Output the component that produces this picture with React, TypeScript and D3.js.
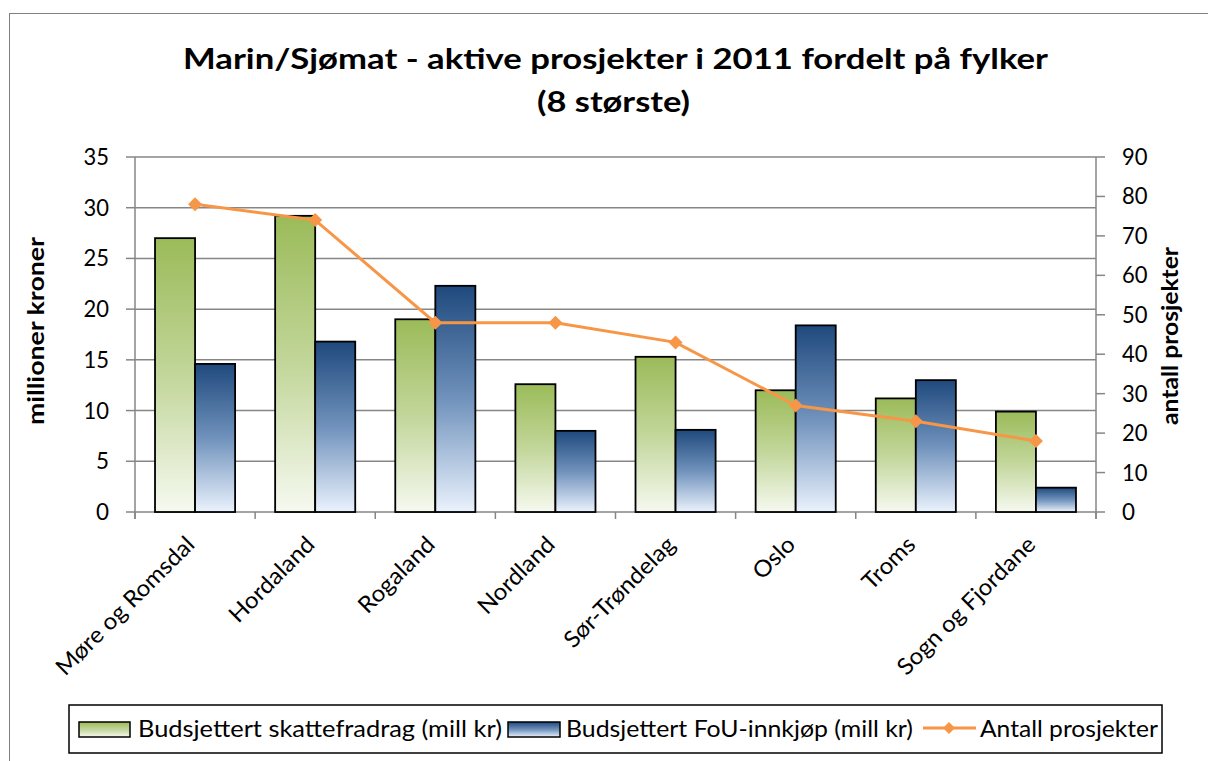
import React from "react";
import * as d3 from "d3";

const categories = ["Møre og Romsdal", "Hordaland", "Rogaland", "Nordland", "Sør-Trøndelag", "Oslo", "Troms", "Sogn og Fjordane"];
const skattefradrag = [27.0, 29.2, 19.0, 12.6, 15.3, 12.0, 11.2, 9.9];
const fouInnkjop = [14.6, 16.8, 22.3, 8.0, 8.1, 18.4, 13.0, 2.4];
const antallProsjekter = [78, 74, 48, 48, 43, 27, 23, 18];
const leftTicks = [0, 5, 10, 15, 20, 25, 30, 35];
const rightTicks = [0, 10, 20, 30, 40, 50, 60, 70, 80, 90];
const seriesNames = ["Budsjettert skattefradrag (mill kr)", "Budsjettert FoU-innkjøp (mill kr)", "Antall prosjekter"];
const titleLines = ["Marin/Sjømat - aktive prosjekter i 2011 fordelt på fylker", "(8 største)"];

const W = 1208;
const H = 761;
const plot = { left: 135, right: 1096, top: 157, bottom: 512 };
const FONT = "Lato, 'Open Sans', sans-serif";
const GRID = "#868686";
const ORANGE = "#F79646";
const SX = 1.05;

export default function App() {
  const x = d3.scaleBand<string>().domain(categories).range([plot.left, plot.right]).paddingInner(0).paddingOuter(0);
  const yL = d3.scaleLinear().domain([0, 35]).range([plot.bottom, plot.top]);
  const yR = d3.scaleLinear().domain([0, 90]).range([plot.bottom, plot.top]);
  const bw = x.bandwidth();
  const sub = d3.scaleBand<number>().domain([0, 1]).range([bw / 6, bw - bw / 6]).padding(0);

  const line = d3
    .line<number>()
    .x((_, i) => (x(categories[i]) as number) + bw / 2)
    .y((d) => yR(d));

  const diamond = (cx: number, cy: number, r: number) =>
    `M${cx},${cy - r}L${cx + r},${cy}L${cx},${cy + r}L${cx - r},${cy}Z`;

  const tickW = (t: number) => (String(t).length === 1 ? 13 : 25.5);

  return (
    <svg width={W} height={H} style={{ position: "absolute", left: 0, top: 0, background: "#fff" }} fontFamily={FONT}>
      <defs>
        <linearGradient id="gGreen" x1="0" y1="0" x2="0" y2="1">
          <stop offset="0" stopColor="#9BBB59" />
          <stop offset="0.5" stopColor="#C2D69A" />
          <stop offset="1" stopColor="#F6F9F0" />
        </linearGradient>
        <linearGradient id="gBlue" x1="0" y1="0" x2="0" y2="1">
          <stop offset="0" stopColor="#1F497D" />
          <stop offset="0.5" stopColor="#7092BC" />
          <stop offset="1" stopColor="#EAF2FD" />
        </linearGradient>
      </defs>
      <rect x={0} y={0} width={W} height={H} fill="#fff" />
      <rect x={9.5} y={13.5} width={W + 20} height={H + 20} fill="none" stroke="#7f7f7f" strokeWidth={1} />

      {/* title */}
      <text x={183} y={69} fontSize={29} fontWeight="bold" fill="#000" textLength={865} lengthAdjust="spacingAndGlyphs">
        {titleLines[0]}
      </text>
      <text x={537} y={112} fontSize={29} fontWeight="bold" fill="#000" textLength={153} lengthAdjust="spacingAndGlyphs">
        {titleLines[1]}
      </text>

      {/* gridlines */}
      {leftTicks.map((t) => (
        <line key={"g" + t} x1={plot.left} x2={plot.right} y1={yL(t)} y2={yL(t)} stroke={GRID} strokeWidth={1.5} />
      ))}
      {/* left axis */}
      <line x1={plot.left} x2={plot.left} y1={plot.top} y2={plot.bottom + 7} stroke={GRID} strokeWidth={1.5} />
      {leftTicks.map((t) => (
        <g key={"l" + t}>
          <line x1={plot.left - 9} x2={plot.left} y1={yL(t)} y2={yL(t)} stroke={GRID} strokeWidth={1.5} />
          <text x={109 - tickW(t)} y={yL(t) + 8} fontSize={23} fill="#000" textLength={tickW(t)} lengthAdjust="spacingAndGlyphs">
            {t}
          </text>
        </g>
      ))}
      {/* right axis */}
      <line x1={plot.right} x2={plot.right} y1={plot.top} y2={plot.bottom + 7} stroke={GRID} strokeWidth={1.5} />
      {rightTicks.map((t) => (
        <g key={"r" + t}>
          <line x1={plot.right} x2={plot.right + 9} y1={yR(t)} y2={yR(t)} stroke={GRID} strokeWidth={1.5} />
          <text x={1122} y={yR(t) + 8} fontSize={23} fill="#000" textLength={tickW(t)} lengthAdjust="spacingAndGlyphs">
            {t}
          </text>
        </g>
      ))}
      {/* bottom ticks */}
      {categories.map((c, i) => (
        <line key={"bt" + i} x1={x(c) as number} x2={x(c) as number} y1={plot.bottom} y2={plot.bottom + 7} stroke={GRID} strokeWidth={1.5} />
      ))}
      <line x1={plot.right} x2={plot.right} y1={plot.bottom} y2={plot.bottom + 7} stroke={GRID} strokeWidth={1.5} />

      {/* axis titles */}
      <text transform={`translate(44,425) rotate(-90)`} fontSize={22} fontWeight="bold" textLength={188} lengthAdjust="spacingAndGlyphs">
        millioner kroner
      </text>
      <text transform={`translate(1178,425) rotate(-90)`} fontSize={22} fontWeight="bold" textLength={178} lengthAdjust="spacingAndGlyphs">
        antall prosjekter
      </text>

      {/* bars */}
      {categories.map((c, i) => {
        const x0 = x(c) as number;
        return (
          <g key={"b" + i}>
            <rect x={x0 + (sub(0) as number)} y={yL(skattefradrag[i])} width={sub.bandwidth()} height={yL(0) - yL(skattefradrag[i])} fill="url(#gGreen)" stroke="#000" strokeWidth={1.8} />
            <rect x={x0 + (sub(1) as number)} y={yL(fouInnkjop[i])} width={sub.bandwidth()} height={yL(0) - yL(fouInnkjop[i])} fill="url(#gBlue)" stroke="#000" strokeWidth={1.8} />
          </g>
        );
      })}

      {/* line */}
      <path d={line(antallProsjekter) || ""} fill="none" stroke={ORANGE} strokeWidth={3} />
      {antallProsjekter.map((v, i) => (
        <path key={"m" + i} d={diamond((x(categories[i]) as number) + bw / 2, yR(v), 7)} fill={ORANGE} />
      ))}

      {/* category labels */}
      {categories.map((c, i) => (
        <text key={"c" + i} transform={`translate(${(x(c) as number) + bw / 2 + 1},${546}) rotate(-45) scale(${SX},1)`} textAnchor="end" fontSize={23} fill="#000">
          {c}
        </text>
      ))}

      {/* legend */}
      <rect x={69} y={705} width={1093} height={48} fill="#fff" stroke="#000" strokeWidth={1.5} />
      <rect x={79} y={722} width={51} height={15} fill="url(#gGreen)" stroke="#000" strokeWidth={1.5} />
      <text x={138} y={737} fontSize={23} textLength={364} lengthAdjust="spacingAndGlyphs">{seriesNames[0]}</text>
      <rect x={508} y={722} width={52} height={15} fill="url(#gBlue)" stroke="#000" strokeWidth={1.5} />
      <text x={566} y={737} fontSize={23} textLength={347} lengthAdjust="spacingAndGlyphs">{seriesNames[1]}</text>
      <line x1={923} x2={976} y1={728} y2={728} stroke={ORANGE} strokeWidth={3} />
      <path d={diamond(949, 728, 6)} fill={ORANGE} />
      <text x={980} y={737} fontSize={23} textLength={178} lengthAdjust="spacingAndGlyphs">{seriesNames[2]}</text>
    </svg>
  );
}
